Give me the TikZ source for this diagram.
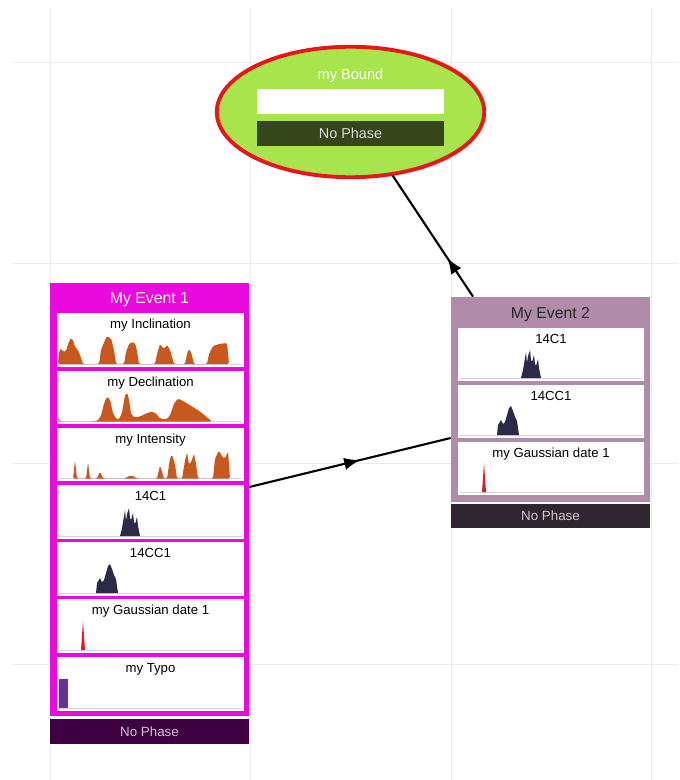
\documentclass[tikz,border=0pt]{standalone}
\usepackage{fontspec}
\setmainfont{Liberation Sans}
\usetikzlibrary{positioning,shapes.geometric,arrows.meta,decorations.markings}

\definecolor{evmagenta}{RGB}{234,10,224}
\definecolor{evdark}{RGB}{62,0,64}
\definecolor{evlilac}{RGB}{214,190,220}
\definecolor{evmauve}{RGB}{176,140,170}
\definecolor{evgrey}{RGB}{48,38,48}
\definecolor{boundgreen}{RGB}{168,228,76}
\definecolor{boundred}{RGB}{232,22,22}
\definecolor{boundbar}{RGB}{52,70,26}
\definecolor{sparkorange}{RGB}{200,88,30}
\definecolor{sparknavy}{RGB}{44,42,72}
\definecolor{sparkred}{RGB}{214,30,40}
\definecolor{typopurple}{RGB}{100,50,150}

\begin{document}
\begin{tikzpicture}[x=0.02cm, y=-0.02cm,
    grid/.style={draw=gray!16, line width=0.5pt},
    evbox/.style={rectangle, minimum width=3.98cm, inner sep=0pt},
    panel/.style={rectangle, fill=white, minimum width=3.74cm, minimum height=1.08cm, inner sep=0pt},
    paneltitle/.style={font=\fontsize{7.5}{8}\selectfont, inner sep=0pt},
    evtitle/.style={font=\fontsize{9}{10}\selectfont, inner sep=0pt, anchor=base},
    phasebar/.style={rectangle, minimum width=3.98cm, minimum height=0.5cm, inner sep=0pt, font=\fontsize{7.6}{8}\selectfont},
    axisline/.style={draw=gray!35, line width=0.4pt},
    curve/.style={rounded corners=0.8pt},
    flow/.style={line width=1.2pt, postaction={decorate}, decoration={markings, mark=at position #1 with {\arrow{Latex[length=9pt,width=7pt]}}}},
    flow/.default=0.5,
]
\useasboundingbox (0,0) rectangle (679,780);

% background grid
\foreach \gx in {50,250,451,651} \draw[grid] (\gx,8) -- (\gx,780);
\foreach \gy in {62,263,463,664} \draw[grid] (12,\gy) -- (679,\gy);

% Bound (top)
\node[ellipse, draw=boundred, line width=2.2pt, fill=boundgreen, minimum width=5.35cm, minimum height=2.61cm] (bound) at (350.5,112) {};
\node[evtitle, font=\fontsize{8.3}{9}\selectfont, text=white] (boundt) at (350.5,80) {my Bound};
\node[rectangle, fill=white, minimum width=3.76cm, minimum height=0.5cm, inner sep=0pt] (boundbox) at (350.5,102) {};
\node[phasebar, fill=boundbar, minimum width=3.76cm, text=gray!30, font=\fontsize{8.2}{9}\selectfont] (boundph) at (350.5,133.5) {No Phase};

% Event 1 (left)
\node[evbox, fill=evmagenta, minimum height=8.66cm] (ev1) at (149.5,499.5) {};
\node[evtitle, text=white] (ev1t) at (149.5,303) {My Event 1};
\node[panel] (inc) at (150.5,340) {};
\node[paneltitle, below=3.5pt of inc.north] {my Inclination};
\node[panel] (dec) at (150.5,397.5) {};
\node[paneltitle, below=3.5pt of dec.north] {my Declination};
\node[panel] (int) at (150.5,454.5) {};
\node[paneltitle, below=3.5pt of int.north] {my Intensity};
\node[panel] (ca) at (150.5,512) {};
\node[paneltitle, below=3.5pt of ca.north] {14C1};
\node[panel] (cca) at (150.5,569) {};
\node[paneltitle, below=3.5pt of cca.north] {14CC1};
\node[panel] (gau) at (150.5,626) {};
\node[paneltitle, below=3.5pt of gau.north] {my Gaussian date 1};
\node[panel] (typo) at (150.5,684) {};
\node[paneltitle, below=3.5pt of typo.north] {my Typo};
\node[phasebar, fill=evdark, text=evlilac] (ev1ph) at (149.5,731.5) {No Phase};

% Event 2 (right)
\node[evbox, fill=evmauve, minimum height=4.1cm] (ev2) at (550.5,399.5) {};
\node[evtitle, text=black!85] (ev2t) at (550.5,318.5) {My Event 2};
\node[panel, minimum width=3.72cm, minimum height=1.06cm] (cb) at (551,354.5) {};
\node[paneltitle, below=3.5pt of cb.north] {14C1};
\node[panel, minimum width=3.72cm, minimum height=1.06cm] (ccb) at (551,411.5) {};
\node[paneltitle, below=3.5pt of ccb.north] {14CC1};
\node[panel, minimum width=3.72cm, minimum height=1.06cm] (gbu) at (551,468.5) {};
\node[paneltitle, below=3.5pt of gbu.north] {my Gaussian date 1};
\node[phasebar, fill=evgrey, minimum height=0.48cm, text=gray!40] (ev2ph) at (550.5,515.5) {No Phase};

% curve baselines
\foreach \b in {364,421.5,478.5,536,593,650,708} \draw[axisline] (59,\b) -- (242,\b);
\foreach \b in {378,435,492} \draw[axisline] (460,\b) -- (642,\b);

% density curves
\fill[sparkorange, curve, shift={(0,364)}, yscale=-1]
  (58,0) -- (59,12) -- (61,16) -- (63,12) -- (66,13) -- (68,20) -- (71,26) -- (73,24) -- (75,17) -- (78,14) -- (80,9) -- (83,0)
  -- (99,0) -- (101,14) -- (103,19) -- (105,24) -- (107,28) -- (109,26) -- (111,26) -- (113,18) -- (115,8) -- (116,0)
  -- (124,0) -- (126,12) -- (129,20) -- (132,22) -- (135,21) -- (137,13) -- (139,0)
  -- (155,0) -- (157,10) -- (160,20) -- (162,17) -- (164,15) -- (167,19) -- (170,14) -- (174,0)
  -- (185,0) -- (187,10) -- (189,15) -- (191,12) -- (194,0)
  -- (207,0) -- (209,10) -- (213,18) -- (219,20) -- (227,21) -- (229,0) -- cycle;
\fill[sparkorange, curve, shift={(0,421.5)}, yscale=-1]
  (58,0) -- (58,4) -- (60,0) -- (93,0) -- (98,1) -- (101,6) -- (104,18) -- (107,25) -- (110,22) -- (113,8) -- (116,3)
  -- (119,2) -- (122,9) -- (125,26) -- (127,29) -- (129,22) -- (131,8) -- (134,4) -- (140,5) -- (146,8) -- (152,10)
  -- (156,8) -- (160,3) -- (166,2) -- (170,6) -- (174,18) -- (178,23) -- (184,20) -- (192,15) -- (200,10) -- (206,5) -- (212,0) -- cycle;
\fill[sparkorange, curve, shift={(0,478.5)}, yscale=-1]
  (73,0) -- (75,18) -- (77,0) -- (86,0) -- (88,16) -- (90,0) -- (97,0) -- (100,7) -- (103,0)
  -- (125,0) -- (128,2) -- (131,3) -- (134,2) -- (137,0) -- (157,0) -- (160,13) -- (164,0)
  -- (167,0) -- (170,20) -- (172,24) -- (175,14) -- (177,0)
  -- (182,0) -- (185,18) -- (187,26) -- (189,14) -- (191,16) -- (194,25) -- (196,14) -- (198,0)
  -- (213,0) -- (215,20) -- (219,28) -- (222,22) -- (225,20) -- (228,27) -- (230,0) -- cycle;
\foreach \dx/\b in {0/536,401/378}
  \fill[sparknavy, shift={(\dx,\b)}, yscale=-1]
    (120,0) -- (122,8) -- (124,20) -- (125,26) -- (126,15) -- (127,22) -- (129,28) -- (130,18) -- (131,16)
    -- (133,23) -- (134,14) -- (135,12) -- (137,19) -- (138,10) -- (140,0) -- cycle;
\foreach \dx/\b in {0/593,401/435}
  \fill[sparknavy, shift={(\dx,\b)}, yscale=-1]
    (96,0) -- (97,10) -- (100,15) -- (102,11) -- (104,13) -- (106,20) -- (108,27) -- (110,29) -- (112,24)
    -- (114,18) -- (116,14) -- (118,0) -- cycle;
\foreach \dx/\b in {0/650,401/492}
  \fill[sparkred, shift={(\dx,\b)}, yscale=-1] (81,0) -- (83,29) -- (85,0) -- cycle;
\fill[typopurple] (59,679) rectangle (68,708);

% connections
\draw[flow=0.32] ([xshift=-1.55cm]ev2.north) -- (bound);
\draw[flow=0.55] ([yshift=0.25cm]ev1.east) -- ([yshift=-0.77cm]ev2.west);

\end{tikzpicture}
\end{document}
